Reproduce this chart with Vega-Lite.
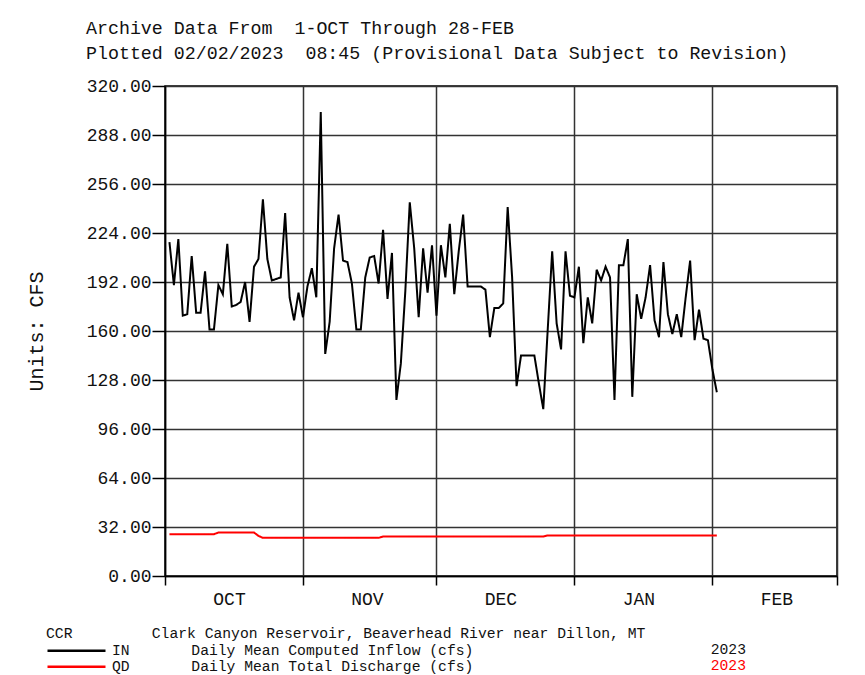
{
  "$schema": "https://vega.github.io/schema/vega-lite/v6.json",
  "autosize": "none",
  "width": 672,
  "height": 490,
  "padding": {"left": 165, "top": 86, "right": 28, "bottom": 99},
  "background": "white",
  "title": {
    "text": ["Archive Data From\u00a0\u00a01-OCT Through 28-FEB", "Plotted 02/02/2023\u00a0\u00a008:45 (Provisional Data Subject to Revision)"],
    "anchor": "start",
    "frame": "group",
    "dx": -79,
    "offset": 14,
    "font": "Liberation Mono",
    "fontSize": 18.3,
    "fontWeight": "normal",
    "lineHeight": 25,
    "color": "#111"
  },
  "data": {
    "values": [
      {"date": "2022-10-01T23:59", "IN": 218, "QD": 27.3},
      {"date": "2022-10-02T23:59", "IN": 190, "QD": 27.3},
      {"date": "2022-10-03T23:59", "IN": 220, "QD": 27.3},
      {"date": "2022-10-04T23:59", "IN": 170, "QD": 27.3},
      {"date": "2022-10-05T23:59", "IN": 171, "QD": 27.3},
      {"date": "2022-10-06T23:59", "IN": 209, "QD": 27.3},
      {"date": "2022-10-07T23:59", "IN": 172, "QD": 27.3},
      {"date": "2022-10-08T23:59", "IN": 172, "QD": 27.3},
      {"date": "2022-10-09T23:59", "IN": 199, "QD": 27.3},
      {"date": "2022-10-10T23:59", "IN": 161, "QD": 27.3},
      {"date": "2022-10-11T23:59", "IN": 161, "QD": 27.3},
      {"date": "2022-10-12T23:59", "IN": 190, "QD": 28.4},
      {"date": "2022-10-13T23:59", "IN": 184, "QD": 28.4},
      {"date": "2022-10-14T23:59", "IN": 217, "QD": 28.4},
      {"date": "2022-10-15T23:59", "IN": 176, "QD": 28.4},
      {"date": "2022-10-16T23:59", "IN": 177, "QD": 28.4},
      {"date": "2022-10-17T23:59", "IN": 179, "QD": 28.4},
      {"date": "2022-10-18T23:59", "IN": 192, "QD": 28.4},
      {"date": "2022-10-19T23:59", "IN": 166, "QD": 28.4},
      {"date": "2022-10-20T23:59", "IN": 202, "QD": 28.4},
      {"date": "2022-10-21T23:59", "IN": 207, "QD": 26.2},
      {"date": "2022-10-22T23:59", "IN": 246, "QD": 24.9},
      {"date": "2022-10-23T23:59", "IN": 207, "QD": 24.9},
      {"date": "2022-10-24T23:59", "IN": 193, "QD": 24.9},
      {"date": "2022-10-25T23:59", "IN": 194, "QD": 24.9},
      {"date": "2022-10-26T23:59", "IN": 195, "QD": 24.9},
      {"date": "2022-10-27T23:59", "IN": 237, "QD": 24.9},
      {"date": "2022-10-28T23:59", "IN": 182, "QD": 24.9},
      {"date": "2022-10-29T23:59", "IN": 167, "QD": 24.9},
      {"date": "2022-10-30T23:59", "IN": 185, "QD": 24.9},
      {"date": "2022-10-31T23:59", "IN": 169, "QD": 24.9},
      {"date": "2022-11-01T23:59", "IN": 189, "QD": 24.9},
      {"date": "2022-11-02T23:59", "IN": 201, "QD": 24.9},
      {"date": "2022-11-03T23:59", "IN": 182, "QD": 24.9},
      {"date": "2022-11-04T23:59", "IN": 303, "QD": 24.9},
      {"date": "2022-11-05T23:59", "IN": 145, "QD": 24.9},
      {"date": "2022-11-06T23:59", "IN": 166, "QD": 24.9},
      {"date": "2022-11-07T23:59", "IN": 214, "QD": 24.9},
      {"date": "2022-11-08T23:59", "IN": 236, "QD": 24.9},
      {"date": "2022-11-09T23:59", "IN": 206, "QD": 24.9},
      {"date": "2022-11-10T23:59", "IN": 205, "QD": 24.9},
      {"date": "2022-11-11T23:59", "IN": 191, "QD": 24.9},
      {"date": "2022-11-12T23:59", "IN": 161, "QD": 24.9},
      {"date": "2022-11-13T23:59", "IN": 161, "QD": 24.9},
      {"date": "2022-11-14T23:59", "IN": 195, "QD": 24.9},
      {"date": "2022-11-15T23:59", "IN": 208, "QD": 24.9},
      {"date": "2022-11-16T23:59", "IN": 209, "QD": 24.9},
      {"date": "2022-11-17T23:59", "IN": 191, "QD": 24.9},
      {"date": "2022-11-18T23:59", "IN": 226, "QD": 25.8},
      {"date": "2022-11-19T23:59", "IN": 181, "QD": 25.8},
      {"date": "2022-11-20T23:59", "IN": 211, "QD": 25.8},
      {"date": "2022-11-21T23:59", "IN": 115, "QD": 25.8},
      {"date": "2022-11-22T23:59", "IN": 139, "QD": 25.8},
      {"date": "2022-11-23T23:59", "IN": 186, "QD": 25.8},
      {"date": "2022-11-24T23:59", "IN": 244, "QD": 25.8},
      {"date": "2022-11-25T23:59", "IN": 214, "QD": 25.8},
      {"date": "2022-11-26T23:59", "IN": 169, "QD": 25.8},
      {"date": "2022-11-27T23:59", "IN": 214, "QD": 25.8},
      {"date": "2022-11-28T23:59", "IN": 185, "QD": 25.8},
      {"date": "2022-11-29T23:59", "IN": 216, "QD": 25.8},
      {"date": "2022-11-30T23:59", "IN": 170, "QD": 25.8},
      {"date": "2022-12-01T23:59", "IN": 216, "QD": 25.8},
      {"date": "2022-12-02T23:59", "IN": 195, "QD": 25.8},
      {"date": "2022-12-03T23:59", "IN": 230, "QD": 25.8},
      {"date": "2022-12-04T23:59", "IN": 184, "QD": 25.8},
      {"date": "2022-12-05T23:59", "IN": 212, "QD": 25.8},
      {"date": "2022-12-06T23:59", "IN": 236, "QD": 25.8},
      {"date": "2022-12-07T23:59", "IN": 189, "QD": 25.8},
      {"date": "2022-12-08T23:59", "IN": 189, "QD": 25.8},
      {"date": "2022-12-09T23:59", "IN": 189, "QD": 25.8},
      {"date": "2022-12-10T23:59", "IN": 189, "QD": 25.8},
      {"date": "2022-12-11T23:59", "IN": 187, "QD": 25.8},
      {"date": "2022-12-12T23:59", "IN": 156, "QD": 25.8},
      {"date": "2022-12-13T23:59", "IN": 175, "QD": 25.8},
      {"date": "2022-12-14T23:59", "IN": 175, "QD": 25.8},
      {"date": "2022-12-15T23:59", "IN": 178, "QD": 25.8},
      {"date": "2022-12-16T23:59", "IN": 241, "QD": 25.8},
      {"date": "2022-12-17T23:59", "IN": 195, "QD": 25.8},
      {"date": "2022-12-18T23:59", "IN": 124, "QD": 25.8},
      {"date": "2022-12-19T23:59", "IN": 144, "QD": 25.8},
      {"date": "2022-12-20T23:59", "IN": 144, "QD": 25.8},
      {"date": "2022-12-21T23:59", "IN": 144, "QD": 25.8},
      {"date": "2022-12-22T23:59", "IN": 144, "QD": 25.8},
      {"date": "2022-12-23T23:59", "IN": 126, "QD": 25.8},
      {"date": "2022-12-24T23:59", "IN": 109, "QD": 25.8},
      {"date": "2022-12-25T23:59", "IN": 161, "QD": 26.5},
      {"date": "2022-12-26T23:59", "IN": 212, "QD": 26.5},
      {"date": "2022-12-27T23:59", "IN": 165, "QD": 26.5},
      {"date": "2022-12-28T23:59", "IN": 148, "QD": 26.5},
      {"date": "2022-12-29T23:59", "IN": 212, "QD": 26.5},
      {"date": "2022-12-30T23:59", "IN": 183, "QD": 26.5},
      {"date": "2022-12-31T23:59", "IN": 182, "QD": 26.5},
      {"date": "2023-01-01T23:59", "IN": 202, "QD": 26.5},
      {"date": "2023-01-02T23:59", "IN": 152, "QD": 26.5},
      {"date": "2023-01-03T23:59", "IN": 182, "QD": 26.5},
      {"date": "2023-01-04T23:59", "IN": 165, "QD": 26.5},
      {"date": "2023-01-05T23:59", "IN": 200, "QD": 26.5},
      {"date": "2023-01-06T23:59", "IN": 193, "QD": 26.5},
      {"date": "2023-01-07T23:59", "IN": 202, "QD": 26.5},
      {"date": "2023-01-08T23:59", "IN": 195, "QD": 26.5},
      {"date": "2023-01-09T23:59", "IN": 115, "QD": 26.5},
      {"date": "2023-01-10T23:59", "IN": 203, "QD": 26.5},
      {"date": "2023-01-11T23:59", "IN": 203, "QD": 26.5},
      {"date": "2023-01-12T23:59", "IN": 220, "QD": 26.5},
      {"date": "2023-01-13T23:59", "IN": 117, "QD": 26.5},
      {"date": "2023-01-14T23:59", "IN": 184, "QD": 26.5},
      {"date": "2023-01-15T23:59", "IN": 168, "QD": 26.5},
      {"date": "2023-01-16T23:59", "IN": 182, "QD": 26.5},
      {"date": "2023-01-17T23:59", "IN": 203, "QD": 26.5},
      {"date": "2023-01-18T23:59", "IN": 167, "QD": 26.5},
      {"date": "2023-01-19T23:59", "IN": 156, "QD": 26.5},
      {"date": "2023-01-20T23:59", "IN": 205, "QD": 26.5},
      {"date": "2023-01-21T23:59", "IN": 171, "QD": 26.5},
      {"date": "2023-01-22T23:59", "IN": 158, "QD": 26.5},
      {"date": "2023-01-23T23:59", "IN": 171, "QD": 26.5},
      {"date": "2023-01-24T23:59", "IN": 156, "QD": 26.5},
      {"date": "2023-01-25T23:59", "IN": 182, "QD": 26.5},
      {"date": "2023-01-26T23:59", "IN": 206, "QD": 26.5},
      {"date": "2023-01-27T23:59", "IN": 154, "QD": 26.5},
      {"date": "2023-01-28T23:59", "IN": 174, "QD": 26.5},
      {"date": "2023-01-29T23:59", "IN": 155, "QD": 26.5},
      {"date": "2023-01-30T23:59", "IN": 154, "QD": 26.5},
      {"date": "2023-01-31T23:59", "IN": 135, "QD": 26.5},
      {"date": "2023-02-01T23:59", "IN": 120, "QD": 26.5}
    ]
  },
  "transform": [
    {"fold": ["IN", "QD"], "as": ["code", "cfs"]},
    {
      "lookup": "code",
      "from": {
        "data": {"values": [
          {"code": "IN", "desc": "Daily Mean Computed Inflow (cfs)"},
          {"code": "QD", "desc": "Daily Mean Total Discharge (cfs)"}
        ]},
        "key": "code",
        "fields": ["desc"]
      }
    }
  ],
  "mark": {"type": "line", "strokeWidth": 2, "interpolate": "linear"},
  "encoding": {
    "x": {
      "field": "date",
      "type": "temporal",
      "scale": {"domain": [{"year": 2022, "month": 10, "date": 1}, {"year": 2023, "month": 3, "date": 1}]},
      "axis": {
        "title": null,
        "values": [
          {"year": 2022, "month": 10, "date": 1},
          {"year": 2022, "month": 11, "date": 1},
          {"year": 2022, "month": 12, "date": 1},
          {"year": 2023, "month": 1, "date": 1},
          {"year": 2023, "month": 2, "date": 1},
          {"year": 2023, "month": 3, "date": 1}
        ],
        "labelExpr": "month(datum.value) == 2 ? '' : upper(timeFormat(datum.value, '%b'))",
        "labelOffset": 64,
        "labelFlush": false,
        "labelOverlap": false,
        "labelBound": false,
        "labelFont": "Liberation Mono",
        "labelFontSize": 18,
        "labelColor": "#111",
        "labelPadding": 5,
        "tickSize": 9,
        "tickColor": "#000",
        "tickWidth": 1.5,
        "domainColor": "#000",
        "domainWidth": 1.5,
        "grid": true,
        "gridColor": "#333",
        "gridWidth": 1.5
      }
    },
    "y": {
      "field": "cfs",
      "type": "quantitative",
      "scale": {"domain": [0, 320], "nice": false, "zero": true},
      "axis": {
        "title": "Units: CFS",
        "titleFont": "Liberation Mono",
        "titleFontSize": 20,
        "titleFontWeight": "normal",
        "titleColor": "#111",
        "titlePadding": 40,
        "values": [0, 32, 64, 96, 128, 160, 192, 224, 256, 288, 320],
        "format": ".2f",
        "labelFont": "Liberation Mono",
        "labelFontSize": 18,
        "labelColor": "#111",
        "labelPadding": 1,
        "labelOverlap": false,
        "tickSize": 13,
        "tickColor": "#000",
        "tickWidth": 1.5,
        "domainColor": "#000",
        "domainWidth": 1.5,
        "grid": true,
        "gridColor": "#333",
        "gridWidth": 1.5
      }
    },
    "color": {
      "field": "code",
      "type": "nominal",
      "scale": {"domain": ["IN", "QD"], "range": ["#000000", "#ff0000"]},
      "legend": {
        "orient": "none",
        "legendX": -119,
        "legendY": 540,
        "title": "CCR\u00a0\u00a0\u00a0\u00a0\u00a0\u00a0\u00a0\u00a0\u00a0Clark Canyon Reservoir, Beaverhead River near Dillon, MT",
        "titleFont": "Liberation Mono",
        "titleFontSize": 14.7,
        "titleFontWeight": "normal",
        "titleColor": "#111",
        "titleLimit": 900,
        "titlePadding": 2,
        "labelExpr": "datum.value == 'IN' ? 'IN\u00a0\u00a0\u00a0\u00a0\u00a0\u00a0\u00a0Daily Mean Computed Inflow (cfs)' : 'QD\u00a0\u00a0\u00a0\u00a0\u00a0\u00a0\u00a0Daily Mean Total Discharge (cfs)'",
        "labelFont": "Liberation Mono",
        "labelFontSize": 14.7,
        "labelColor": "#111",
        "labelLimit": 900,
        "labelOffset": 5,
        "symbolType": "stroke",
        "symbolSize": 3364,
        "symbolStrokeWidth": 2.5,
        "clipHeight": 16,
        "rowPadding": 0,
        "padding": 0
      }
    },
    "strokeDash": {
      "field": "desc",
      "type": "nominal",
      "scale": {"domain": ["Daily Mean Computed Inflow (cfs)", "Daily Mean Total Discharge (cfs)"], "range": [[1, 0], [1, 0]]},
      "legend": {
        "orient": "none",
        "legendX": 531,
        "legendY": 556,
        "title": null,
        "labelExpr": "'2023'",
        "labelFont": "Liberation Mono",
        "labelFontSize": 14.7,
        "labelOffset": 0,
        "symbolOpacity": 0,
        "symbolStrokeWidth": 0,
        "symbolSize": 1,
        "clipHeight": 16,
        "rowPadding": 0,
        "padding": 0,
        "encode": {
          "labels": {
            "update": {
              "fill": {"signal": "datum.value === 'Daily Mean Total Discharge (cfs)' ? '#ff0000' : '#111111'"}
            }
          }
        }
      }
    }
  },
  "config": {
    "font": "Liberation Mono",
    "view": {"stroke": "#000", "strokeWidth": 1.5}
  }
}
